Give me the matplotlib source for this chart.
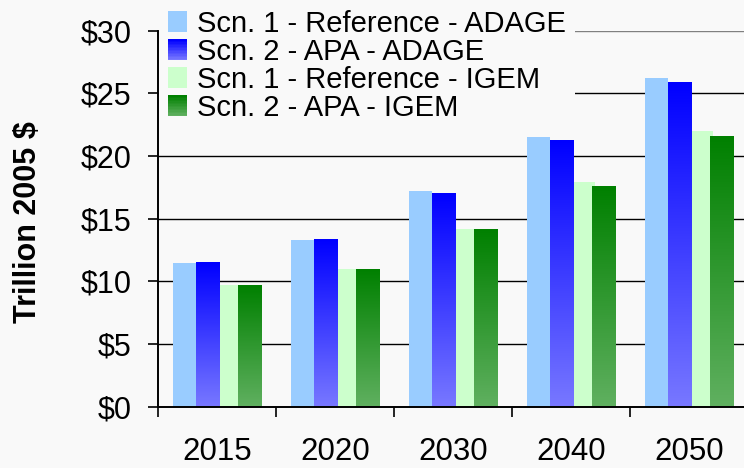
import matplotlib
matplotlib.use("Agg")
import matplotlib.pyplot as plt
import numpy as np
from matplotlib.colors import LinearSegmentedColormap, to_rgb
from matplotlib.legend_handler import HandlerBase
from matplotlib.patches import Rectangle, Patch

plt.rcParams["font.family"] = ["Liberation Sans", "DejaVu Sans"]

years = ["2015", "2020", "2030", "2040", "2050"]
ref_adage = [11.5, 13.3, 17.2, 21.5, 26.2]
apa_adage = [11.5, 13.4, 17.0, 21.3, 25.9]
ref_igem = [9.7, 11.0, 14.2, 17.9, 22.0]
apa_igem = [9.7, 11.0, 14.2, 17.6, 21.6]
labels = ["Scn. 1 - Reference - ADAGE", "Scn. 2 - APA - ADAGE",
          "Scn. 1 - Reference - IGEM", "Scn. 2 - APA - IGEM"]
yticks = [0, 5, 10, 15, 20, 25, 30]

BG = "#f9f9f9"
# (top colour, bottom colour) for each series; flat series have equal ends
series_colors = [("#99ccff", "#99ccff"), ("#0000ff", "#7878ff"),
                 ("#ccffcc", "#ccffcc"), ("#008000", "#60b060")]
offsets = [0.2246, 0.419, 0.606, 0.775]
width = 0.195


class GradientHandler(HandlerBase):
    def __init__(self, top, bottom, n=14):
        super().__init__()
        self.top, self.bottom, self.n = to_rgb(top), to_rgb(bottom), n

    def create_artists(self, legend, orig, xd, yd, w, h, fs, trans):
        arts = []
        for i in range(self.n):
            t = i / (self.n - 1)
            c = tuple(b + (a - b) * t for a, b in zip(self.top, self.bottom))
            r = Rectangle((-xd, -yd + h * i / self.n), w, h / self.n + 0.3,
                          facecolor=c, edgecolor="none", transform=trans)
            arts.append(r)
        return arts


fig = plt.figure(figsize=(7.44, 4.68), dpi=100, facecolor=BG)
ax = fig.add_axes([158 / 744, (468 - 406.7) / 468, 590 / 744, 376 / 468])
ax.set_facecolor(BG)

x = np.arange(len(years))
data = [ref_adage, apa_adage, ref_igem, apa_igem]
for vals, off, (top, bot) in zip(data, offsets, series_colors):
    bars = ax.bar(x + off, vals, width=width, color=top, zorder=2,
                  linewidth=0)
    if top != bot:
        cmap = LinearSegmentedColormap.from_list("g", [bot, top])
        grad = np.linspace(0, 1, 256).reshape(-1, 1)
        for b in bars:
            bx, bw, bh = b.get_x(), b.get_width(), b.get_height()
            ax.imshow(grad, cmap=cmap, origin="lower", aspect="auto",
                      extent=[bx, bx + bw, 0, bh], zorder=3,
                      interpolation="bilinear")

ax.set_xlim(0, 5)
ax.set_ylim(0, 30)
for v in yticks[1:-1]:
    ax.axhline(v, color="black", linewidth=1.0, zorder=1)
ax.axhline(30, color="#808080", linewidth=1.0, zorder=1)

ax.set_yticks(yticks)
ax.set_yticklabels([f"${v}" for v in yticks])
ax.set_xticks(np.arange(0, 6))
ax.set_xticklabels([])
ax.set_xticks(x + 0.5, minor=True)
ax.set_xticklabels(years, minor=True)
ax.tick_params(axis="both", which="major", direction="out", length=7.2,
               width=1.2, labelsize=22, color="black")
ax.tick_params(axis="y", pad=12)
ax.tick_params(axis="x", which="minor", length=0, labelsize=22.5, pad=21.5)

for s in ["top", "right"]:
    ax.spines[s].set_visible(False)
for s in ["left", "bottom"]:
    ax.spines[s].set_linewidth(1.4)
    ax.spines[s].set_zorder(4)

fig.text(28 / 744, 1 - 222 / 468, "Trillion 2005 $", rotation=90,
         fontsize=22, fontweight="bold", ha="center", va="center")

handles = [Patch(facecolor=c[0]) for c in series_colors]
hmap = {h: GradientHandler(*c) for h, c in zip(handles, series_colors)}
leg = ax.legend(handles, labels, handler_map=hmap, loc="upper left",
                bbox_to_anchor=(159 / 744, 1 - 1 / 468),
                bbox_transform=fig.transFigure, fontsize=21,
                frameon=True, fancybox=False, framealpha=1,
                facecolor=BG, edgecolor="none", borderpad=0.3,
                borderaxespad=0, handlelength=0.66, handleheight=0.73,
                handletextpad=0.35, labelspacing=0.0)
leg.set_zorder(5)

fig.savefig("out.png", dpi=100, facecolor=BG)
